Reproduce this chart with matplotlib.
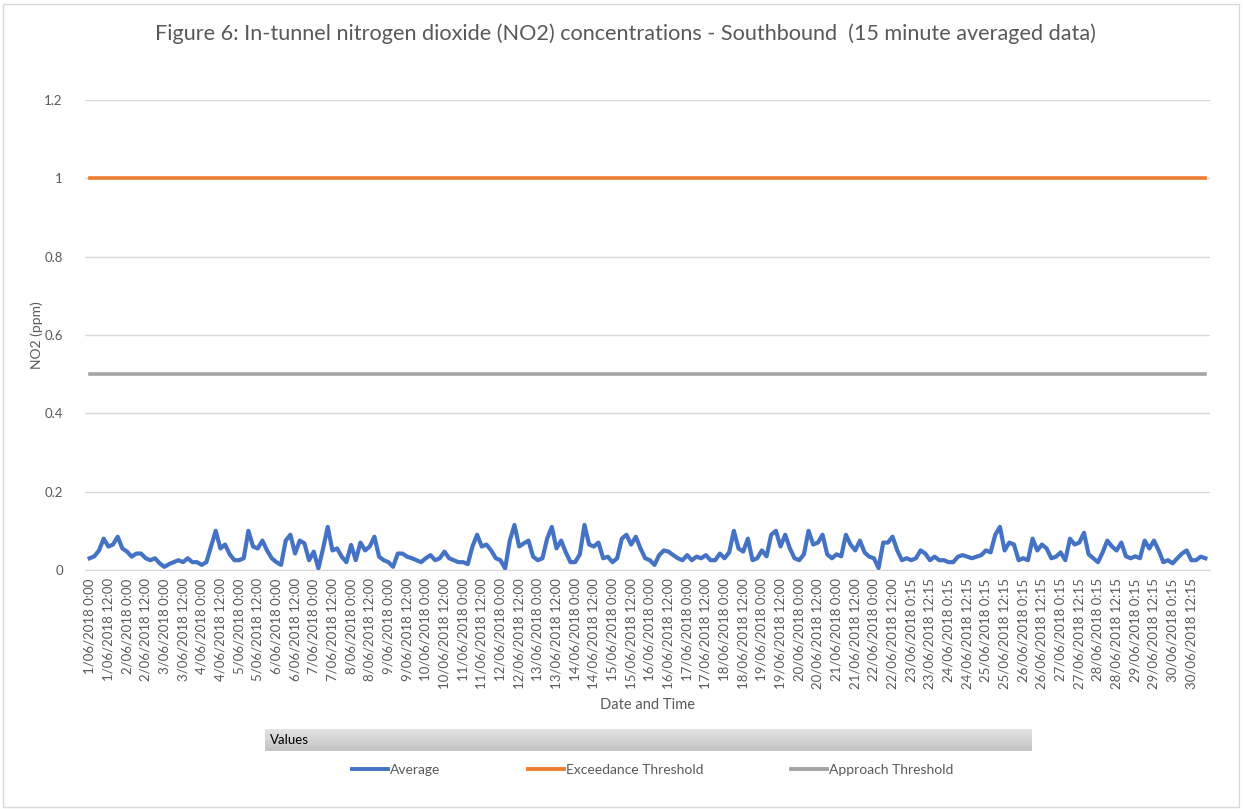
import numpy as np
import matplotlib.pyplot as plt
from matplotlib.lines import Line2D
from matplotlib.patches import Rectangle

plt.rcParams['font.family'] = ['Lato', 'DejaVu Sans']

# 15-min averaged NO2 (ppm), every 3 hours, one row per day
no2_avg = [
    0.030, 0.035, 0.050, 0.080, 0.060, 0.065, 0.085, 0.055,  # 1/06
    0.047, 0.034, 0.042, 0.042, 0.030, 0.025, 0.030, 0.017,
    0.008, 0.015, 0.020, 0.025, 0.020, 0.030, 0.020, 0.020,
    0.013, 0.020, 0.060, 0.100, 0.055, 0.065, 0.040, 0.025,
    0.025, 0.030, 0.100, 0.060, 0.055, 0.075, 0.050, 0.030,  # 5/06
    0.020, 0.013, 0.075, 0.090, 0.042, 0.075, 0.068, 0.025,
    0.047, 0.004, 0.055, 0.110, 0.050, 0.055, 0.034, 0.020,
    0.064, 0.025, 0.070, 0.050, 0.060, 0.085, 0.034, 0.025,
    0.020, 0.008, 0.042, 0.042, 0.034, 0.030, 0.025, 0.020,
    0.030, 0.038, 0.025, 0.030, 0.047, 0.030, 0.025, 0.020,  # 10/06
    0.020, 0.015, 0.060, 0.090, 0.060, 0.065, 0.050, 0.030,
    0.025, 0.004, 0.075, 0.115, 0.060, 0.068, 0.075, 0.034,
    0.025, 0.030, 0.080, 0.110, 0.055, 0.075, 0.045, 0.020,
    0.020, 0.040, 0.115, 0.065, 0.060, 0.070, 0.030, 0.034,
    0.020, 0.030, 0.080, 0.090, 0.065, 0.085, 0.055, 0.030,  # 15/06
    0.025, 0.013, 0.038, 0.050, 0.047, 0.038, 0.030, 0.025,
    0.038, 0.025, 0.034, 0.030, 0.038, 0.025, 0.025, 0.042,
    0.030, 0.045, 0.100, 0.055, 0.047, 0.080, 0.025, 0.030,
    0.050, 0.035, 0.090, 0.100, 0.060, 0.090, 0.055, 0.030,
    0.025, 0.040, 0.100, 0.065, 0.070, 0.090, 0.040, 0.030,  # 20/06
    0.040, 0.035, 0.090, 0.065, 0.050, 0.075, 0.045, 0.034,
    0.030, 0.005, 0.070, 0.070, 0.085, 0.050, 0.025, 0.030,
    0.025, 0.030, 0.050, 0.042, 0.025, 0.034, 0.025, 0.025,
    0.020, 0.020, 0.034, 0.038, 0.034, 0.030, 0.034, 0.038,
    0.050, 0.045, 0.090, 0.110, 0.050, 0.070, 0.065, 0.025,  # 25/06
    0.030, 0.025, 0.080, 0.050, 0.065, 0.055, 0.030, 0.034,
    0.045, 0.025, 0.080, 0.065, 0.070, 0.095, 0.040, 0.030,
    0.020, 0.045, 0.075, 0.060, 0.050, 0.070, 0.035, 0.030,
    0.035, 0.030, 0.075, 0.055, 0.075, 0.050, 0.020, 0.025,
    0.017, 0.030, 0.042, 0.050, 0.025, 0.025, 0.034, 0.030,  # 30/06
]
exceedance = [1.0] * len(no2_avg)
approach = [0.5] * len(no2_avg)

days = list(range(1, 31))
# after 22/06 the logged times shift to quarter past
tick_labels = []
for d in days:
    m = ":15" if d >= 23 else ":00"
    tick_labels.append(f"{d}/06/2018 0{m}")
    tick_labels.append(f"{d}/06/2018 12{m}")

GREY = "#595959"
x = np.arange(len(no2_avg))

fig = plt.figure(figsize=(12.43, 8.09), dpi=100)
ax = fig.add_axes([85 / 1243, 1 - 570 / 809, 1125 / 1243, 470 / 809])

ax.plot(x, no2_avg, color="#4472C4", lw=3, solid_joinstyle="round")
ax.plot(x, exceedance, color="#ED7D31", lw=2.6)
ax.plot(x, approach, color="#A5A5A5", lw=2.6)

ax.set_ylim(0, 1.2)
ax.set_xlim(-1, len(no2_avg))
ax.set_yticks(np.arange(0, 1.21, 0.2))
ax.set_yticklabels(["0", "0.2", "0.4", "0.6", "0.8", "1", "1.2"])
ax.set_xticks(x[::4])
ax.set_xticklabels(tick_labels, rotation=90)
ax.tick_params(axis="both", length=0, colors=GREY, labelsize=9.5)
ax.tick_params(axis="y", pad=16)
ax.tick_params(axis="x", pad=6)
ax.grid(axis="y", color="#d9d9d9", lw=1)
ax.set_axisbelow(True)
for s in ["top", "right", "left"]:
    ax.spines[s].set_visible(False)
ax.spines["bottom"].set_color("#d9d9d9")

ax.set_ylabel("NO2 (ppm)", color=GREY, fontsize=10)
ax.yaxis.set_label_coords(-0.037, 0.5)
ax.set_xlabel("Date and Time", color=GREY, fontsize=10.5, labelpad=6)

fig.text(0.503, 1 - 34 / 809, "Figure 6: In-tunnel nitrogen dioxide (NO2) concentrations - Southbound  (15 minute averaged data)",
         ha="center", va="center", fontsize=15.6, color=GREY)

# pivot field button "Values"
bax = fig.add_axes([265 / 1243, 1 - 751 / 809, 767 / 1243, 22 / 809])
top_c = np.array([0.90, 0.90, 0.90])
bot_c = np.array([0.76, 0.76, 0.76])
t = np.linspace(0, 1, 50)[:, None, None]
grad = top_c * (1 - t) + bot_c * t
bax.imshow(grad, aspect="auto", extent=[0, 1, 0, 1])
bax.set_axis_off()
bax.text(0.006, 0.5, "Values", va="center", ha="left", fontsize=9.5, color="black")

handles = [Line2D([], [], color="#4472C4", lw=2.8),
           Line2D([], [], color="#ED7D31", lw=2.8),
           Line2D([], [], color="#A5A5A5", lw=2.8)]
leg = fig.legend(handles, ["Average", "Exceedance Threshold", "Approach Threshold"],
                 loc="center", bbox_to_anchor=(0.525, 1 - 770 / 809), ncol=3, frameon=False,
                 fontsize=10, handlelength=2.6, handletextpad=0.15, columnspacing=6.3)
for tx in leg.get_texts():
    tx.set_color(GREY)

fig.patches.append(Rectangle((3 / 1243, 2 / 809), 1236 / 1243, 803 / 809, transform=fig.transFigure,
                             fill=False, edgecolor="#d9d9d9", lw=1))

fig.savefig("out.png", dpi=100)
